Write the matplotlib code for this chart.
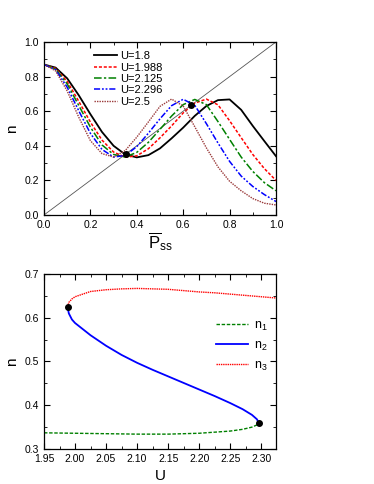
import matplotlib
matplotlib.use("Agg")
import matplotlib.pyplot as plt
from matplotlib.ticker import MultipleLocator, FormatStrFormatter

plt.rcParams["font.family"] = ["Liberation Sans", "DejaVu Sans"]
plt.rcParams["mathtext.fontset"] = "custom"
plt.rcParams["mathtext.rm"] = "Liberation Sans"
plt.rcParams["mathtext.it"] = "Liberation Sans"

# ---- top panel data: n vs P_ss for several U ----
p_ss = [0.0, 0.05, 0.10, 0.15, 0.20, 0.25, 0.30, 0.35, 0.40, 0.45, 0.50,
        0.55, 0.60, 0.65, 0.70, 0.75, 0.80, 0.85, 0.90, 0.95, 1.0]
n_u180 = [0.870, 0.852, 0.790, 0.692, 0.583, 0.480, 0.400, 0.350, 0.333, 0.346, 0.385,
          0.443, 0.505, 0.573, 0.630, 0.664, 0.668, 0.608, 0.515, 0.427, 0.340]
n_u1988 = [0.870, 0.848, 0.772, 0.657, 0.537, 0.433, 0.364, 0.334, 0.342, 0.383, 0.446,
           0.515, 0.590, 0.647, 0.670, 0.637, 0.545, 0.447, 0.350, 0.268, 0.200]
n_u2125 = [0.870, 0.844, 0.758, 0.633, 0.508, 0.405, 0.350, 0.335, 0.362, 0.420, 0.495,
           0.572, 0.638, 0.668, 0.638, 0.540, 0.437, 0.335, 0.252, 0.187, 0.140]
n_u2296 = [0.870, 0.840, 0.739, 0.602, 0.472, 0.379, 0.335, 0.344, 0.395, 0.473, 0.556,
           0.632, 0.669, 0.634, 0.528, 0.416, 0.310, 0.225, 0.165, 0.118, 0.078]
n_u25 = [0.870, 0.833, 0.717, 0.565, 0.430, 0.355, 0.335, 0.372, 0.450, 0.538, 0.628,
         0.670, 0.630, 0.510, 0.388, 0.278, 0.195, 0.140, 0.095, 0.068, 0.058]
u_labels = ["U=1.8", "U=1.988", "U=2.125", "U=2.296", "U=2.5"]
diag = [0.0, 1.0]
cross_pts = [0.355, 0.635]

# ---- bottom panel data: branches n1, n2, n3 vs U ----
u_n1 = [1.95, 2.00, 2.05, 2.10, 2.15, 2.20, 2.25, 2.27, 2.285, 2.293, 2.296]
n1 = [0.337, 0.336, 0.335, 0.334, 0.334, 0.336, 0.341, 0.345, 0.350, 0.355, 0.360]
u_n2 = [1.988, 1.990, 1.995, 2.00, 2.025, 2.05, 2.075, 2.10, 2.125, 2.15, 2.175,
        2.20, 2.225, 2.25, 2.27, 2.285, 2.293, 2.296]
n2 = [0.625, 0.610, 0.596, 0.588, 0.560, 0.536, 0.515, 0.497, 0.481, 0.466, 0.451,
      0.436, 0.421, 0.405, 0.391, 0.378, 0.368, 0.360]
u_n3 = [1.988, 1.990, 1.995, 2.00, 2.025, 2.05, 2.075, 2.10, 2.125, 2.15, 2.175,
        2.20, 2.225, 2.25, 2.275, 2.30, 2.325]
n3 = [0.625, 0.635, 0.643, 0.648, 0.660, 0.664, 0.666, 0.667, 0.666, 0.665, 0.662,
      0.659, 0.657, 0.654, 0.651, 0.648, 0.645]
turn_u = [1.988, 2.296]
turn_n = [0.625, 0.360]

fig = plt.figure(figsize=(3.74, 4.84), dpi=100)
ax1 = fig.add_axes([0.1176, 0.5558, 0.6203, 0.3574])
ax2 = fig.add_axes([0.1176, 0.0723, 0.6203, 0.3616])

ax1.plot(diag, diag, color="#555555", lw=0.6)
ax1.plot(p_ss, n_u180, color="black", lw=1.3, ls="-", label=u_labels[0])
ax1.plot(p_ss, n_u1988, color="#ff0000", lw=1.1, ls=(0, (2, 1.2)), label=u_labels[1])
ax1.plot(p_ss, n_u2125, color="#008000", lw=1.1, ls=(0, (5, 1.5, 1.5, 1.5)), label=u_labels[2])
ax1.plot(p_ss, n_u2296, color="#0000ff", lw=1.1, ls=(0, (4, 1.2, 1.2, 1.2, 1.2, 1.2)), label=u_labels[3])
ax1.plot(p_ss, n_u25, color="#9a3a3a", lw=1.0, ls=(0, (1, 0.8)), label=u_labels[4])
ax1.plot(cross_pts, cross_pts, "o", color="black", ms=4)

ax1.set_xlim(0, 1)
ax1.set_ylim(0, 1)
ax1.set_xlabel(r"$\overline{\mathrm{P}}_{\mathrm{ss}}$", fontsize=12, labelpad=0)
ax1.set_ylabel("n", fontsize=11, labelpad=4)
ax1.legend(loc="upper left", bbox_to_anchor=(0.215, 0.947), frameon=False, fontsize=8,
           handlelength=2.1, handletextpad=0.3, labelspacing=0.12, borderpad=0,
           borderaxespad=0)

ax2.plot(u_n1, n1, color="#008000", lw=1.0, ls=(0, (2.5, 1.2)), label="$\\mathrm{n}_1$")
ax2.plot(u_n2, n2, color="#0000ff", lw=1.3, ls="-", label="$\\mathrm{n}_2$")
ax2.plot(u_n3, n3, color="#ff0000", lw=1.0, ls=(0, (1, 0.6)), label="$\\mathrm{n}_3$")
ax2.plot(turn_u, turn_n, "o", color="black", ms=4)

ax2.set_xlim(1.95, 2.3237)
ax2.set_ylim(0.3, 0.7)
ax2.set_xlabel("U", fontsize=11, labelpad=4)
ax2.set_ylabel("n", fontsize=11, labelpad=4)
ax2.legend(loc="upper left", bbox_to_anchor=(0.74, 0.74), frameon=False, fontsize=9,
           handlelength=2.6, handletextpad=0.5, labelspacing=0.55, borderpad=0,
           borderaxespad=0)

for ax in (ax1, ax2):
    ax.tick_params(which="both", direction="in", top=True, right=True, labelsize=7.5, pad=3.5)
    ax.tick_params(which="major", length=4, width=0.8)
    ax.tick_params(which="minor", length=2, width=0.6)
    for s in ax.spines.values():
        s.set_linewidth(0.9)

ax1.xaxis.set_major_locator(MultipleLocator(0.2))
ax1.xaxis.set_minor_locator(MultipleLocator(0.1))
ax1.yaxis.set_major_locator(MultipleLocator(0.2))
ax1.yaxis.set_minor_locator(MultipleLocator(0.1))
ax1.xaxis.set_major_formatter(FormatStrFormatter("%.1f"))
ax1.yaxis.set_major_formatter(FormatStrFormatter("%.1f"))

ax2.xaxis.set_major_locator(MultipleLocator(0.05))
ax2.xaxis.set_minor_locator(MultipleLocator(0.025))
ax2.yaxis.set_major_locator(MultipleLocator(0.1))
ax2.yaxis.set_minor_locator(MultipleLocator(0.05))
ax2.xaxis.set_major_formatter(FormatStrFormatter("%.2f"))
ax2.yaxis.set_major_formatter(FormatStrFormatter("%.1f"))

fig.savefig("out.png", dpi=100)
